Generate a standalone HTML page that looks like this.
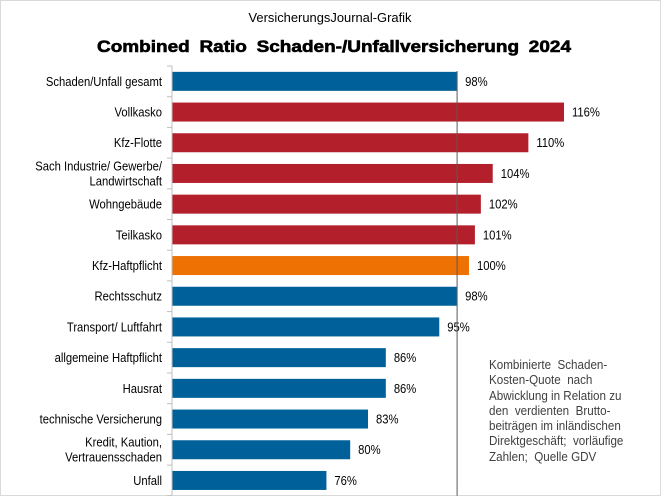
<!DOCTYPE html>
<html><head><meta charset="utf-8"><style>
body{margin:0;background:#fff;}
#wrap{position:relative;width:661px;height:496px;overflow:hidden;font-family:"Liberation Sans",Arial,sans-serif;}
svg text{font-family:"Liberation Sans",Arial,sans-serif;}
#note{position:absolute;left:489px;top:358px;font-size:12.5px;line-height:15.3px;color:#404040;white-space:nowrap;transform:scaleX(0.93);transform-origin:0 0;}
</style></head><body>
<div id="wrap">
<svg id="chart" width="661" height="496">
<rect x="0.5" y="0.5" width="660" height="495" fill="#fff" stroke="#d9d9d9"/>
<text x="330" y="22" text-anchor="middle" font-size="12.5" fill="#000" textLength="163" lengthAdjust="spacingAndGlyphs">VersicherungsJournal-Grafik</text>
<text x="97" y="52" font-size="17" font-weight="bold" fill="#000" stroke="#000" stroke-width="0.6" word-spacing="4" textLength="474" lengthAdjust="spacingAndGlyphs">Combined Ratio Schaden-/Unfallversicherung 2024</text>
<g id="bars"></g>
</svg>
<div id="note">Kombinierte&nbsp; Schaden-<br>Kosten-Quote&nbsp; nach<br>Abwicklung in Relation zu<br>den&nbsp; verdienten&nbsp; Brutto-<br>beiträgen im inländischen<br>Direktgeschäft;&nbsp; vorläufige<br>Zahlen;&nbsp; Quelle GDV</div>
</div>
<script>
const categories=[["Schaden/Unfall gesamt"],["Vollkasko"],["Kfz-Flotte"],["Sach Industrie/ Gewerbe/","Landwirtschaft"],["Wohngebäude"],["Teilkasko"],["Kfz-Haftpflicht"],["Rechtsschutz"],["Transport/ Luftfahrt"],["allgemeine Haftpflicht"],["Hausrat"],["technische Versicherung"],["Kredit, Kaution,","Vertrauensschaden"],["Unfall"]];
const values=[98,116,110,104,102,101,100,98,95,86,86,83,80,76];
const colorGroups=["b","r","r","r","r","r","o","b","b","b","b","b","b","b"];
const refValue=98;
const xMin=50, xMax=116;
const X0=172, X1=564, Y0=66, rowH=30.7, barH=19;
const colors={b:"#00619a",r:"#b41f2c",o:"#ee7203"};
const xs=v=>X0+(v-xMin)/(xMax-xMin)*(X1-X0);
const yc=i=>Y0+rowH*(i+0.5);
const NS="http://www.w3.org/2000/svg";
const g=document.getElementById("bars");
function mk(t,a){const e=document.createElementNS(NS,t);for(const k in a)e.setAttribute(k,a[k]);g.appendChild(e);return e;}
values.forEach((v,i)=>{
  const r=mk("rect",{x:X0,y:yc(i)-barH/2,width:xs(v)-X0,height:barH,fill:colors[colorGroups[i]]});
  
  
  const t=mk("text",{x:xs(v)+8,y:yc(i)+4.5,"font-size":"12.5",fill:"#000",transform:"translate("+(xs(v)+8)+",0) scale(0.9,1) translate("+(-(xs(v)+8))+",0)"});
  t.textContent=v+"%";
  
  
  const lines=categories[i];
  lines.forEach((ln,j)=>{
    const c=mk("text",{x:162,y:yc(i)+4.5+(j-(lines.length-1)/2)*15,"text-anchor":"end","font-size":"12.5",fill:"#000",transform:"translate(162,0) scale(0.9,1) translate(-162,0)"});
    c.textContent=ln;
    
    
  });
});
for(let i=0;i<=values.length;i++){
  const tk=mk("line",{x1:X0-5,x2:X0,y1:Y0+rowH*i,y2:Y0+rowH*i,stroke:"#bfbfbf"});
  
  
}
const ax=mk("line",{x1:X0,x2:X0,y1:Y0,y2:Y0+rowH*values.length,stroke:"#bfbfbf"});


const rl=mk("line",{x1:xs(refValue),x2:xs(refValue),y1:Y0+5,y2:Y0+rowH*values.length,stroke:"#595959"});


</script>
</body></html>
